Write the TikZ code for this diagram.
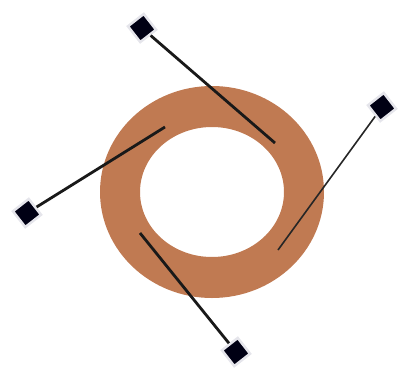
\documentclass[tikz,border=0pt]{standalone}
\begin{document}
\begin{tikzpicture}[x=1pt,y=-1pt,
  pad/.style={rectangle,fill=black!92!blue,draw=blue!12!gray!18,line width=2.5pt,minimum size=20pt,inner sep=0pt,rotate=38},
  lead/.style={line width=2.8pt,black!90},
  thinlead/.style={line width=1.6pt,black!85}]
\useasboundingbox (0,0) rectangle (401,375);
\definecolor{copper}{RGB}{192,122,82}
\fill[copper,even odd rule] (212,192) ellipse [x radius=112, y radius=106]
  (212,192) ellipse [x radius=72, y radius=65];
\node[pad] (ptop) at (142,28) {};
\node[pad] (pleft) at (27,213) {};
\node[pad] (pright) at (382,107) {};
\node[pad] (pbot) at (236,352) {};
\coordinate (etop) at (275,143);
\coordinate (eleft) at (165,127);
\coordinate (eright) at (278,250);
\coordinate (ebot) at (140,233);
\draw[lead] (ptop) -- (etop);
\draw[lead] (pleft) -- (eleft);
\draw[thinlead] (pright) -- (eright);
\draw[lead] (pbot) -- (ebot);
\end{tikzpicture}
\end{document}
